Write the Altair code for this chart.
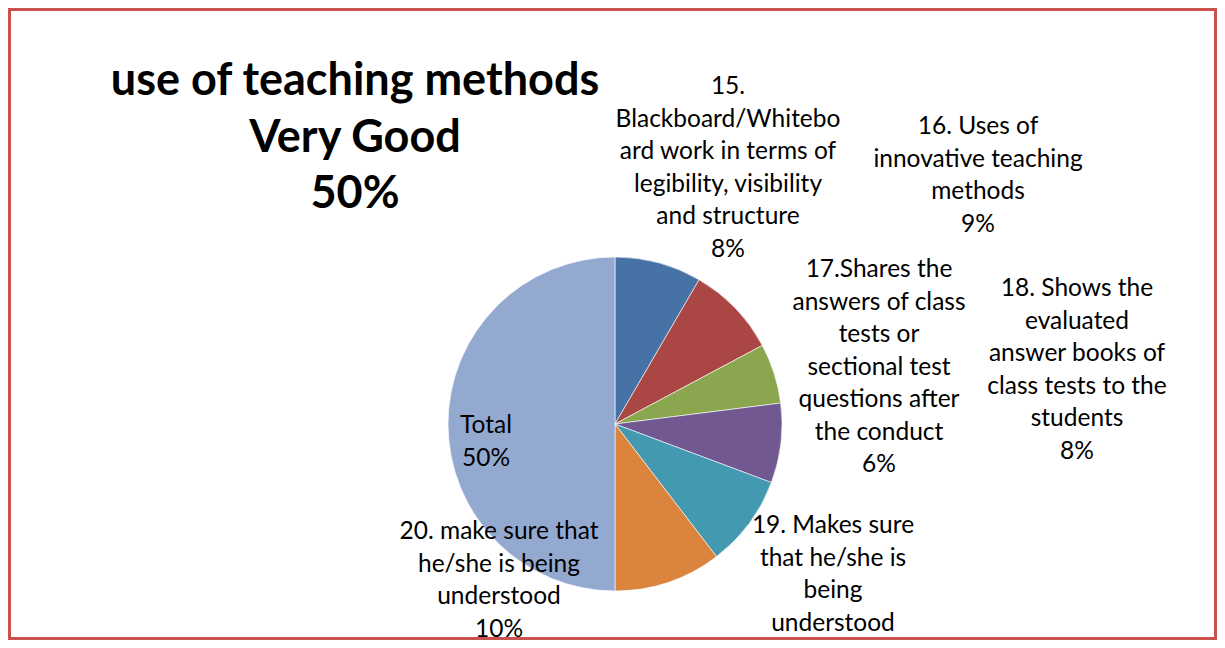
import altair as alt
import pandas as pd

# ---- data ----
label_lines = [
    ["15.", "Blackboard/Whitebo", "ard work in terms of", "legibility, visibility", "and structure"],
    ["16. Uses of", "innovative teaching", "methods"],
    ["17.Shares the", "answers of class", "tests or", "sectional test", "questions after", "the conduct"],
    ["18. Shows the", "evaluated", "answer books of", "class tests to the", "students"],
    ["19. Makes sure", "that he/she is", "being", "understood"],
    ["20. make sure that", "he/she is being", "understood"],
    ["Total"],
]
values = [8.4, 8.8, 5.8, 7.7, 8.9, 10.4, 50.0]
# the percentage line of label 19 falls below the frame in the original and is not visible
show_pct = [True, True, True, True, False, True, True]
colors = ["#4672A6", "#AA4643", "#8AA64F", "#725890", "#4299B0", "#DB843D", "#94A9D0"]
title_lines = ["use of teaching methods", "Very Good", "50%"]

# ---- layout (pixels in plot area) ----
label_x = [720, 970, 871, 1069, 825, 491, 478]
label_y = [86, 126, 269, 288, 525, 531, 425]

keys = [l[0] for l in label_lines]
pie_df = pd.DataFrame({"cat": keys, "value": values, "idx": list(range(len(values)))})
lab_df = pd.DataFrame({
    "cat": keys,
    "text": ["\n".join(l + ([f"{round(v)}%"] if s else [])) for l, v, s in zip(label_lines, values, show_pct)],
    "lx": label_x,
    "ly": label_y,
})
title_df = pd.DataFrame({"text": ["\n".join(title_lines)]})

FONT = "Lato"

pie = alt.Chart(pie_df).mark_arc(radius=167, stroke="white", strokeWidth=0.6).encode(
    theta=alt.Theta("value:Q", stack=True),
    order=alt.Order("idx:Q"),
    color=alt.Color("cat:N", scale=alt.Scale(domain=keys, range=colors), legend=None),
    x=alt.value(607),
    y=alt.value(416),
)

labels = alt.Chart(lab_df).mark_text(
    font=FONT, fontSize=24.5, lineBreak="\n", lineHeight=32.5,
    align="center", baseline="alphabetic", color="#000000",
).encode(
    x=alt.X("lx:Q", scale=None, axis=None),
    y=alt.Y("ly:Q", scale=None, axis=None),
    text="text:N",
)

title = alt.Chart(title_df).mark_text(
    font=FONT, fontSize=45, fontWeight="bold", lineBreak="\n", lineHeight=56.5,
    align="center", baseline="alphabetic", color="#000000",
).encode(
    x=alt.value(347),
    y=alt.value(87),
    text="text:N",
)

chart = alt.layer(pie, labels, title).properties(
    width=1209, height=632,
    autosize=alt.AutoSizeParams(type="none"),
    padding=0,
    background="white",
).configure_view(stroke="#C9514E", strokeWidth=6)

chart.save("out.html", embed_options={"renderer": "svg", "actions": False})
